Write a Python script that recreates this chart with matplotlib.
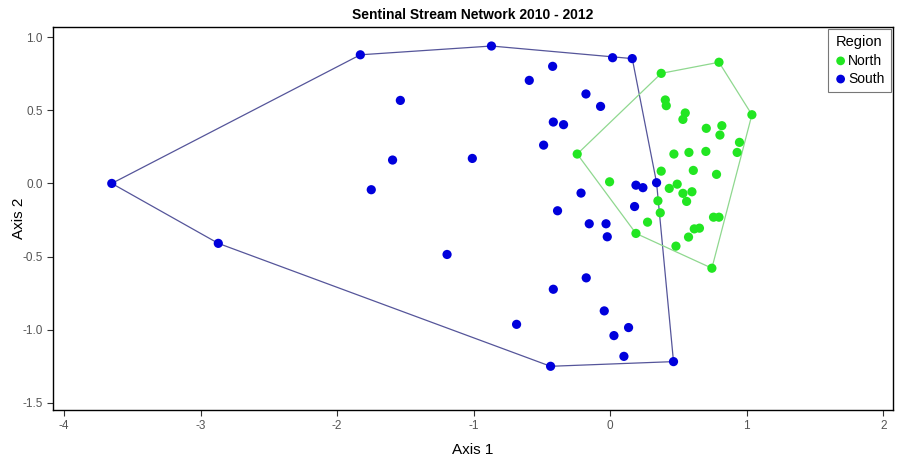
import numpy as np
import matplotlib.pyplot as plt

plt.rcParams['font.family'] = ['Liberation Sans', 'DejaVu Sans']

# Ordination scores
south_x = [-3.65, -2.87, -1.83, -0.87, 0.017, 0.161, 0.463, -0.437, -1.537, -1.594,
           -1.010, -1.750, -1.195, -0.422, -0.593, -0.417, -0.342, -0.488, -0.178, -0.071,
           0.188, 0.239, 0.339, -0.214, 0.178, -0.154, -0.031, -0.022, -0.176, -0.386,
           -0.417, -0.686, -0.044, 0.134, 0.027, 0.100]
south_y = [0.00, -0.41, 0.88, 0.94, 0.860, 0.854, -1.219, -1.251, 0.568, 0.160,
           0.171, -0.043, -0.486, 0.801, 0.705, 0.420, 0.402, 0.262, 0.612, 0.527,
           -0.012, -0.029, 0.005, -0.066, -0.158, -0.276, -0.276, -0.365, -0.646, -0.187,
           -0.724, -0.964, -0.872, -0.986, -1.041, -1.183]

north_x = [0.373, 0.796, 1.037, -0.242, 0.188, 0.744, 0.403, 0.410, 0.549, 0.532,
           0.703, 0.817, 0.803, 0.946, 0.929, 0.466, 0.576, 0.700, 0.373, 0.608,
           0.778, -0.005, 0.490, 0.432, 0.532, 0.598, 0.559, 0.349, 0.366, 0.273,
           0.756, 0.796, 0.615, 0.653, 0.573, 0.481]
north_y = [0.753, 0.829, 0.470, 0.201, -0.342, -0.580, 0.571, 0.532, 0.482, 0.438,
           0.377, 0.395, 0.331, 0.281, 0.212, 0.201, 0.212, 0.219, 0.084, 0.089,
           0.062, 0.011, -0.005, -0.034, -0.068, -0.057, -0.123, -0.119, -0.201, -0.265,
           -0.231, -0.231, -0.311, -0.306, -0.367, -0.429]

x_ticks = [-4, -3, -2, -1, 0, 1, 2]
y_ticks = [1.0, 0.5, 0.0, -0.5, -1.0, -1.5]


def convex_hull(xs, ys):
    # monotone chain, returns closed polygon
    pts = sorted(set(zip(xs, ys)))

    def cross(o, a, b):
        return (a[0] - o[0]) * (b[1] - o[1]) - (a[1] - o[1]) * (b[0] - o[0])

    lower, upper = [], []
    for p in pts:
        while len(lower) >= 2 and cross(lower[-2], lower[-1], p) <= 0:
            lower.pop()
        lower.append(p)
    for p in reversed(pts):
        while len(upper) >= 2 and cross(upper[-2], upper[-1], p) <= 0:
            upper.pop()
        upper.append(p)
    hull = lower[:-1] + upper[:-1]
    hull.append(hull[0])
    return np.array(hull)


fig = plt.figure(figsize=(9.02, 4.58), dpi=100)
ax = fig.add_axes([0.0588, 0.1048, 0.9312, 0.8362])

green = '#22e622'
blue = '#0000dc'

hs = convex_hull(south_x, south_y)
hn = convex_hull(north_x, north_y)
ax.plot(hs[:, 0], hs[:, 1], color='#55559a', lw=0.9, zorder=2)
ax.plot(hn[:, 0], hn[:, 1], color='#8fd88f', lw=0.9, zorder=2)

ax.scatter(north_x, north_y, s=44, color=green, edgecolor='none', label='North', zorder=3)
ax.scatter(south_x, south_y, s=44, color=blue, edgecolor='none', label='South', zorder=3)

ax.set_xlim(-4.08, 2.07)
ax.set_ylim(-1.55, 1.07)
ax.set_xticks(x_ticks)
ax.set_xticklabels([str(t) for t in x_ticks])
ax.set_yticks(y_ticks)
ax.set_yticklabels(['%.1f' % t for t in y_ticks])
ax.tick_params(direction='out', length=4, width=0.8, labelsize=8.5,
               labelcolor='#555555', color='#333333')

for s in ax.spines.values():
    s.set_linewidth(1.0)
    s.set_color('black')

ax.set_xlabel('Axis 1', fontsize=11, labelpad=7.5)
ax.set_ylabel('Axis 2', fontsize=11, labelpad=-3)
ax.set_title('Sentinal Stream Network 2010 - 2012', fontsize=10, fontweight='bold', pad=6)

leg = ax.legend(title='Region', loc='upper right', fontsize=10, title_fontsize=10.5,
                frameon=True, fancybox=False, edgecolor='#555555',
                handletextpad=0.1, handlelength=0.9, borderpad=0.45,
                labelspacing=0.3, markerscale=0.95, borderaxespad=0.15)
leg.get_frame().set_linewidth(0.8)

fig.savefig('out.png', dpi=100)
